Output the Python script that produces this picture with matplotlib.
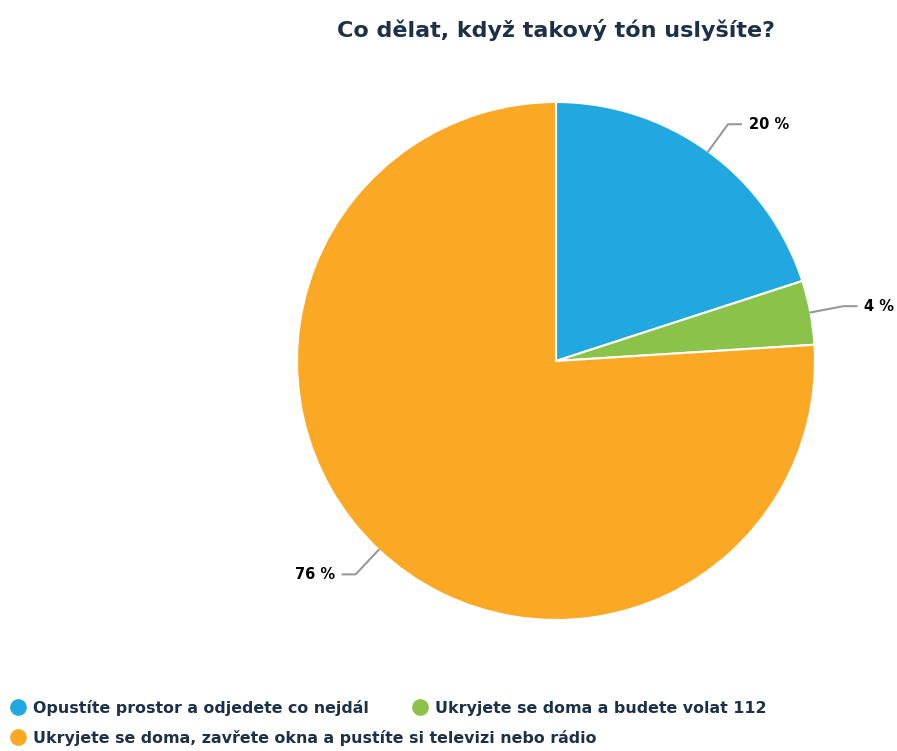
import numpy as np
import matplotlib.pyplot as plt
from matplotlib.lines import Line2D

title = "Co dělat, když takový tón uslyšíte?"
categories = [
    "Opustíte prostor a odjedete co nejdál",
    "Ukryjete se doma a budete volat 112",
    "Ukryjete se doma, zavřete okna a pustíte si televizi nebo rádio",
]
values = [20, 4, 76]
labels = ["20 %", "4 %", "76 %"]
colors = ["#21a8e0", "#8bc34a", "#fba925"]
navy = "#1c3147"

W, H = 897, 751
fig = plt.figure(figsize=(W / 100, H / 100), dpi=100)

cx, cy, r = 556, 361, 259
ax = fig.add_axes([(cx - r) / W, 1 - (cy + r) / H, 2 * r / W, 2 * r / H])
wedges, _ = ax.pie(values, colors=colors, startangle=90, counterclock=False,
                   radius=1, wedgeprops=dict(edgecolor="white", linewidth=1.5))
ax.set_xlim(-1, 1)
ax.set_ylim(-1, 1)
ax.set_aspect("equal")
ax.axis("off")

# labels with connector lines
for w, lab in zip(wedges, labels):
    ang = np.deg2rad((w.theta1 + w.theta2) / 2)
    x0, y0 = np.cos(ang), np.sin(ang)
    x1, y1 = 1.13 * x0, 1.13 * y0
    side = 1 if x0 >= 0 else -1
    x2 = x1 + side * 0.05
    ax.plot([x0, x1, x2], [y0, y1, y1], color="#999999", lw=1.5, clip_on=False)
    ax.text(x2 + side * 0.03, y1, lab, ha="left" if side > 0 else "right",
            va="center", fontsize=10.5, fontweight="bold", color="black")

fig.text(556 / W, 1 - 30 / H, title, ha="center", va="center",
         fontsize=16, fontweight="bold", color=navy)

# legend: one entry each, placed like the reference rows
legend_pos = [(8, 708), (410, 708), (8, 738)]
for c, cat, (px, py) in zip(colors, categories, legend_pos):
    h = Line2D([], [], marker="o", ls="", markersize=11, color=c)
    fig.legend([h], [cat], loc="center left", bbox_to_anchor=(px / W, 1 - py / H),
               frameon=False, handletextpad=0.35, handlelength=1.2,
               borderpad=0, borderaxespad=0, labelcolor=navy,
               prop=dict(weight="bold", size=11.4))

fig.savefig("out.png", dpi=100)
